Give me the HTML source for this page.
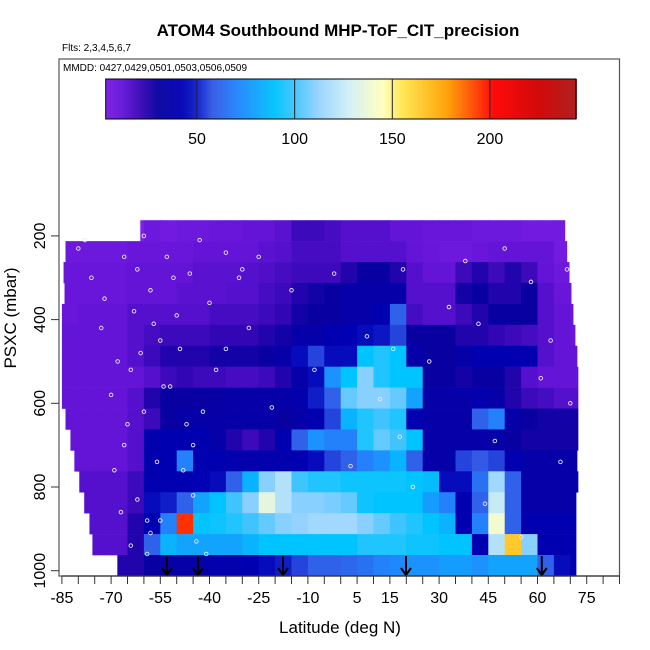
<!DOCTYPE html>
<html><head><meta charset="utf-8"><style>
html,body{margin:0;padding:0;background:#fff;}
svg{display:block;font-family:"Liberation Sans",sans-serif;}
</style></head><body>
<svg id="chart" width="650" height="650" viewBox="0 0 650 650" xmlns="http://www.w3.org/2000/svg">
<rect x="0" y="0" width="650" height="650" fill="#fff"/>
<text x="338" y="36" text-anchor="middle" font-size="17" font-weight="bold">ATOM4 Southbound MHP-ToF_CIT_precision</text>
<text x="62" y="51" font-size="10">Flts: 2,3,4,5,6,7</text>
<g id="cells"></g>
<g id="dots"></g>
<g id="arrows"></g>
<rect x="59" y="59" width="560.5" height="517" fill="none" stroke="#555" stroke-width="1.2"/>
<text x="63" y="71" font-size="10">MMDD: 0427,0429,0501,0503,0506,0509</text>
<g id="cbar"></g>
<g id="xaxis"></g>
<g id="yaxis"></g>
<text x="340" y="633" text-anchor="middle" font-size="17">Latitude (deg N)</text>
<text x="0" y="0" transform="translate(16,318) rotate(-90)" text-anchor="middle" font-size="17">PSXC (mbar)</text>
</svg>
<script>
const rowPressure=[187.5,237.5,287.5,337.5,387.5,437.5,487.5,537.5,587.5,637.5,687.5,737.5,787.5,837.5,887.5,937.5,987.5];
const rowLatStart=[-61.1,-83.9,-84.5,-84.2,-85,-85,-85,-85,-85,-83.9,-82.4,-81.2,-79.7,-78.2,-76.6,-75.7,-68.1];
const rowLatEnd=[68.3,68.9,69.6,70.2,70.8,71.4,72,72.3,72.3,72.3,72.3,72,72.3,71.7,71.7,71.7,71.7];
const latBins=[-85,-80,-75,-70,-65,-60,-55,-50,-45,-40,-35,-30,-25,-20,-15,-10,-5,0,5,10,15,20,25,30,35,40,45,50,55,60,65,70];
const values=[
[0,0,0,0,0,8,6,8,8,10,10,12,12,14,20,20,18,15,15,15,12,12,10,10,10,8,8,8,6,6,6,6],
[8,8,8,8,10,10,10,10,12,12,12,12,14,15,18,18,18,15,15,15,15,12,10,8,8,10,12,12,12,12,6,6],
[10,10,10,10,12,12,12,12,14,14,14,15,16,18,20,20,20,25,30,30,25,15,12,12,20,25,20,25,20,12,8,6],
[10,10,10,10,12,12,12,14,14,14,15,15,18,20,25,28,30,35,35,35,35,15,15,15,28,30,25,25,30,15,10,8],
[10,12,12,12,15,15,15,15,15,18,18,18,20,22,28,30,30,35,35,40,60,18,15,15,20,25,30,30,30,15,12,10],
[12,12,12,12,15,18,20,20,20,22,22,22,25,28,35,35,40,42,45,48,55,30,30,30,25,25,22,20,18,15,12,10],
[12,12,12,12,15,20,25,25,25,28,28,28,30,35,45,55,45,45,90,95,90,35,30,30,35,40,40,40,40,15,12,12],
[12,12,12,12,12,15,20,22,20,20,18,18,20,25,35,45,75,90,110,95,90,90,30,30,28,30,30,25,15,12,12,12],
[12,12,12,12,15,25,30,30,30,32,35,35,35,35,38,50,60,105,110,110,105,80,35,35,35,38,35,25,20,18,15,15],
[12,12,12,12,15,20,30,35,35,35,35,35,35,30,35,40,55,85,95,100,95,40,35,35,35,60,70,35,30,28,28,28],
[12,12,12,12,15,38,40,40,40,35,25,20,25,40,60,75,70,70,95,105,100,90,35,35,35,35,35,30,28,28,28,28],
[12,12,12,12,15,38,40,70,40,40,38,38,38,38,40,45,55,60,70,75,85,60,35,35,55,58,55,40,35,35,35,35],
[15,15,15,15,20,40,40,40,42,45,60,85,110,120,100,95,95,92,92,92,92,90,88,45,45,65,115,60,35,35,35,35],
[15,15,15,15,20,45,50,60,80,90,100,110,135,120,110,110,108,105,92,90,90,90,78,70,40,60,125,60,35,35,35,35],
[15,15,15,15,25,40,70,195,90,92,95,100,105,110,112,115,115,115,110,105,100,95,90,85,40,70,140,60,40,40,40,40],
[15,15,15,15,25,60,85,80,80,80,80,85,90,90,90,90,90,90,95,95,95,92,92,90,90,40,120,165,110,40,40,40],
[0,0,0,25,25,30,35,35,35,38,38,40,45,50,55,60,60,62,65,70,72,75,75,78,78,75,80,80,80,60,45,40]];
const arrowLats=[-53,-43.5,-17.6,19.9,61.3];
const dotLat=[-80,-78,-76,-73,-70,-69,-67,-66,-65,-64,-63,-62,-61,-60,-59,-58,-57,-56,-55,-54,-53,-51,-49,-47,-45,-44,-43,-40,-38,-35,-31,-28,-25,-21,-15,-8,-2,3,8,12,16,18,19,22,27,33,38,42,44,47,50,55,58,61,64,67,69,70,-72,-68,-62,-58,-50,-46,-42,-35,-30,-60,-64,-55,-45,-52,-66,-59,-48,-41];
const dotP=[230,210,300,420,580,760,860,700,650,520,380,280,480,620,960,330,410,740,880,560,250,300,470,650,820,930,210,360,520,240,300,420,250,610,330,520,290,750,440,590,470,680,280,800,500,370,260,410,840,690,230,920,310,540,450,740,280,600,350,500,830,910,390,290,620,470,280,200,940,450,700,560,250,880,760,960];
const tickLabels=[-85,-70,-55,-40,-25,-10,5,15,30,45,60,75];
const yTickLabels=[200,400,600,800,1000];
const cbarTicks=[50,100,150,200];

const NS='http://www.w3.org/2000/svg';
function X(lat){return 61.9+(lat+85)*3.28;}
function Y(p){return 570.7-(1000-p)*0.4185;}
function CB(v){return 197+(v-50)*1.953;}
const stops=[[0,[128,32,232]],[12,[100,20,215]],[22,[50,6,180]],[30,[8,0,160]],[42,[0,0,180]],[50,[16,30,200]],[58,[50,90,230]],[72,[32,136,255]],[90,[0,196,255]],[100,[64,196,255]],[112,[150,210,255]],[128,[210,240,245]],[145,[255,255,190]],[155,[255,230,80]],[178,[255,160,0]],[192,[255,70,0]],[202,[255,0,0]],[225,[208,0,0]],[250,[160,32,32]]];
function col(v){
  if(v<=stops[0][0])return 'rgb('+stops[0][1].join(',')+')';
  for(let i=1;i<stops.length;i++){
    if(v<=stops[i][0]){
      const a=stops[i-1],b=stops[i],t=(v-a[0])/(b[0]-a[0]);
      return 'rgb('+a[1].map((c,k)=>Math.round(c+(b[1][k]-c)*t)).join(',')+')';
    }
  }
  return 'rgb('+stops[stops.length-1][1].join(',')+')';
}
function mk(tag,attrs,parent){const e=document.createElementNS(NS,tag);for(const k in attrs)e.setAttribute(k,attrs[k]);parent.appendChild(e);return e;}

const cells=document.getElementById('cells');
for(let r=0;r<rowPressure.length;r++){
  const y0=Y(rowPressure[r]+25),y1=Y(rowPressure[r]-25);
  for(let i=0;i<latBins.length;i++){
    const a=Math.max(latBins[i],rowLatStart[r]),b=Math.min(latBins[i]+5,rowLatEnd[r]);
    if(b<=a)continue;
    const e=mk('rect',{x:X(a),y:y1,width:X(b)-X(a)+0.5,height:y0-y1+0.3,fill:col(values[r][i])},cells);
    
    
  }
}
const dots=document.getElementById('dots');
for(let i=0;i<dotLat.length;i++){
  const e=mk('circle',{cx:X(dotLat[i]),cy:Y(dotP[i]),r:1.8,fill:'none',stroke:'#e8e8ff','stroke-width':0.9},dots);
  
  
}
const arrows=document.getElementById('arrows');
for(const a of arrowLats){
  const x=X(a);
  const g=mk('g',{},arrows);
  
  
  mk('line',{x1:x,y1:556,x2:x,y2:575,stroke:'#000','stroke-width':2},g);
  mk('path',{d:`M${x-5},${568} L${x},${575} L${x+5},${568}`,fill:'none',stroke:'#000','stroke-width':2},g);
}
const cb=document.getElementById('cbar');
const cbx0=105.7,cbx1=576;
for(let x=cbx0;x<cbx1;x+=1){
  const v=50+(x+0.5-197)/1.953;
  const e=mk('rect',{x:x,y:79,width:1.2,height:40,fill:col(v)},cb);
  
  
}
mk('rect',{x:cbx0,y:79,width:cbx1-cbx0,height:40,fill:'none',stroke:'#000','stroke-width':1},cb);
for(const t of cbarTicks){
  const l=mk('line',{x1:CB(t),y1:79,x2:CB(t),y2:119,stroke:'#222','stroke-width':1},cb);
  
  
  const tx=mk('text',{x:CB(t),y:144,'text-anchor':'middle','font-size':16},cb);
  tx.textContent=t;
  
  
}
const xa=document.getElementById('xaxis');
mk('line',{x1:X(-85),y1:576,x2:X(85),y2:576,stroke:'#333','stroke-width':1.2},xa);
for(let l=-85;l<=85;l+=5){
  const e=mk('line',{x1:X(l),y1:576,x2:X(l),y2:584,stroke:'#333','stroke-width':1},xa);
  
  
}
for(const t of tickLabels){
  const e=mk('text',{x:X(t),y:603,'text-anchor':'middle','font-size':16},xa);
  e.textContent=t;
  
  
}
const ya=document.getElementById('yaxis');
for(const t of yTickLabels){
  const y=Y(t);
  const e=mk('line',{x1:51,y1:y,x2:59,y2:y,stroke:'#333','stroke-width':1},ya);
  
  
  const tx=mk('text',{x:0,y:0,transform:`translate(45,${y}) rotate(-90)`,'text-anchor':'middle','font-size':16},ya);
  tx.textContent=t;
  
  
}
</script>
</body></html>
